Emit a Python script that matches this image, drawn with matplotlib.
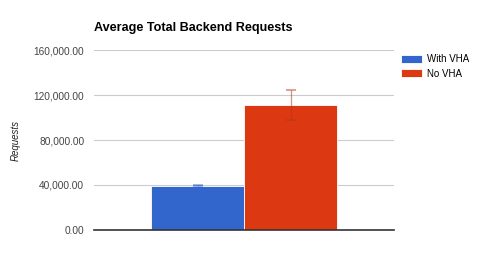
import matplotlib
matplotlib.use("Agg")
import matplotlib.pyplot as plt
from matplotlib.ticker import FuncFormatter
import numpy as np

plt.rcParams['font.family'] = ['Liberation Sans', 'DejaVu Sans']

series = ["With VHA", "No VHA"]
values = [39400, 111100]
errors = [400, 13200]
colors = ["#3366cc", "#dc3912"]
err_colors = ["#3366cc", "#b8341a"]
yticks = [0, 40000, 80000, 120000, 160000]

fig = plt.figure(figsize=(4.85, 2.61), dpi=100)
ax = fig.add_axes([0.1938, 0.1188, 0.6186, 0.6896])

width = 0.31
offsets = [-0.155, 0.155]
for name, v, e, c, ec, off in zip(series, values, errors, colors, err_colors, offsets):
    ax.bar(off, v, width=width, color=c, edgecolor="white", linewidth=0.6,
           label=name, zorder=3)
    ax.errorbar(off, v, yerr=e, color=ec, alpha=0.55, capsize=3.8,
                elinewidth=0.9, capthick=1.2, zorder=4)

ax.set_xlim(-0.5, 0.5)
ax.set_ylim(0, 160000)
ax.set_yticks(yticks)
ax.yaxis.set_major_formatter(FuncFormatter(lambda v, p: f"{v:,.2f}"))
ax.set_xticks([])
ax.grid(axis="y", color="#cccccc", linewidth=0.8, zorder=0)
for s in ["top", "right", "left"]:
    ax.spines[s].set_visible(False)
ax.spines["bottom"].set_color("#333333")
ax.spines["bottom"].set_linewidth(1.2)
ax.spines["bottom"].set_zorder(5)
ax.tick_params(axis="y", length=0, pad=7, labelsize=7.3, labelcolor="#444444")

ax.set_ylabel("Requests", fontsize=7, style="italic", color="#222222", labelpad=9)
fig.text(94 / 485, 1 - 28 / 261, "Average Total Backend Requests", fontsize=9.1,
         fontweight="bold", color="#000000", va="center", ha="left")

ax.legend(loc="upper left", bbox_to_anchor=(1.01, 1.0), frameon=False,
          fontsize=7, handlelength=2.2, handleheight=0.9, handletextpad=0.5,
          labelspacing=0.5, borderaxespad=0)

fig.savefig("out.png", dpi=100)
